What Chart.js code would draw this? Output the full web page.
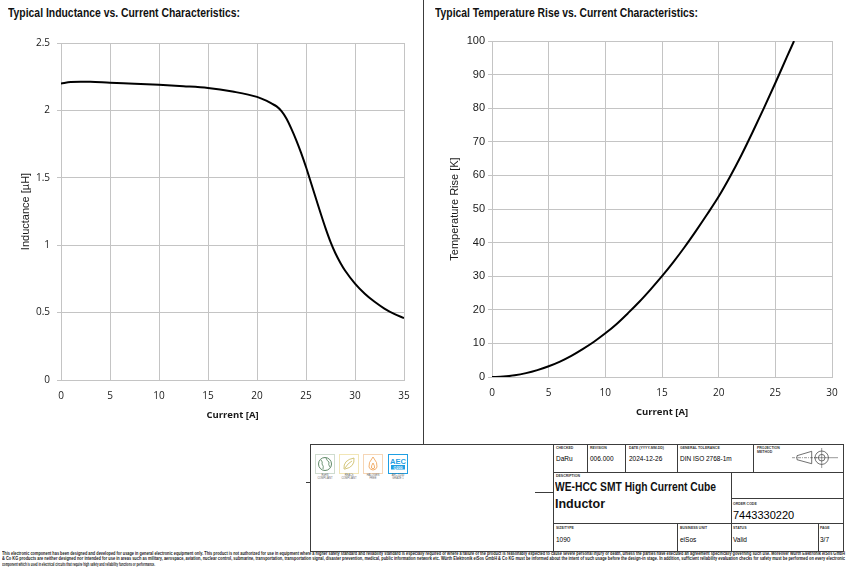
<!DOCTYPE html>
<html>
<head>
<meta charset="utf-8">
<script src="https://cdn.jsdelivr.net/npm/chart.js@4.4.1/dist/chart.umd.min.js"></script>
<style>
  body { margin: 0; background: #fff; }
  #page { position: relative; width: 849px; height: 574px; overflow: hidden; background: #fff;
          font-family: "Liberation Sans", Arial, sans-serif; color: #1a1a1a; }
  .t { position: absolute; white-space: nowrap; line-height: 1; transform-origin: 0 0; }
  .head { font-family: "Liberation Sans Narrow", "Liberation Sans", sans-serif; font-weight: bold; font-size: 12.5px; color: #111; }
  .ln { position: absolute; background: #3c3c3c; }
  .lbl { font-size: 3.5px; font-weight: bold; color: #333; }
  .val { font-size: 6.5px; color: #000; }
  .big { font-family: "Liberation Sans Narrow", "Liberation Sans", sans-serif; font-weight: bold; font-size: 12.5px; color: #111; }
  .code { font-size: 11px; color: #000; }
  .logo { position: absolute; top: 454px; width: 20px; height: 20px; }
  .lg { font-size: 2.6px; color: #666; text-align: center; width: 24px; line-height: 1.1; }
  .disc { font-family: "Liberation Sans Narrow", "Liberation Sans", sans-serif; font-weight: bold; font-size: 4.8px; color: #222; }
  .box { position: absolute; }
</style>
</head>
<body>
<div id="page">
  <div class="t head" id="title1" style="left:8px; top:6.7px;">Typical Inductance vs. Current Characteristics:</div>
  <div class="t head" id="title2" style="left:435px; top:6.7px;">Typical Temperature Rise vs. Current Characteristics:</div>

  <div class="box" style="left:0; top:30px; width:420px; height:410px;"><canvas id="indChart" width="420" height="410"></canvas></div>
  <div class="box" style="left:425px; top:30px; width:424px; height:410px;"><canvas id="tempChart" width="424" height="410"></canvas></div>

  <!-- logos -->
  <svg class="logo" style="left:315px;" viewBox="0 0 20 20">
    <rect x="0.5" y="0.5" width="19" height="19" fill="#fff" stroke="#cfdccf" stroke-width="1"/>
    <circle cx="10" cy="10" r="6.5" fill="none" stroke="#4f7d58" stroke-width="0.9"/>
    <path d="M6 6 Q8 8 7 10 Q9 12 8 15 M11 4 Q12 7 14 8 Q13 11 15 13" fill="none" stroke="#4f7d58" stroke-width="0.8"/>
  </svg>
  <svg class="logo" style="left:339px;" viewBox="0 0 20 20">
    <rect x="0.5" y="0.5" width="19" height="19" fill="#fff" stroke="#f2e6b6" stroke-width="1"/>
    <path d="M5 15 Q4 6 15 4 Q16 13 6 15 Z M6 14 Q9 9 13 7" fill="none" stroke="#c9b75a" stroke-width="0.8"/>
  </svg>
  <svg class="logo" style="left:363px;" viewBox="0 0 20 20">
    <rect x="0.5" y="0.5" width="19" height="19" fill="#fff" stroke="#f6d6b6" stroke-width="1"/>
    <path d="M10 3 Q15 9 14 13 Q13 16 10 16 Q7 16 6 13 Q5 9 10 3 Z M10 9 Q12 12 11.5 14 Q10 15.5 8.5 14 Q8 12 10 9 Z" fill="none" stroke="#ef9d4d" stroke-width="0.8"/>
  </svg>
  <svg class="logo" style="left:388px;" viewBox="0 0 20 20">
    <rect x="0.5" y="0.5" width="19" height="19" fill="#fff" stroke="#1f9fe3" stroke-width="1"/>
    <text x="10" y="9.5" text-anchor="middle" font-family="Liberation Sans Narrow, Liberation Sans" font-weight="bold" font-size="7.5" fill="#1f9fe3">AEC</text>
    <rect x="3" y="11" width="14" height="4.5" fill="#1f9fe3"/>
    <text x="10" y="14.6" text-anchor="middle" font-family="Liberation Sans" font-weight="bold" font-size="3.6" fill="#fff">Q200</text>
  </svg>
  <div class="t lg" style="left:313px; top:475px;">RoHS<br>COMPLIANT</div>
  <div class="t lg" style="left:337px; top:475px;">REACh<br>COMPLIANT</div>
  <div class="t lg" style="left:361px; top:475px;">HALOGEN<br>FREE</div>
  <div class="t lg" style="left:386px; top:475px;">AEC-Q200<br>GRADE 1</div>

  <!-- title block texts -->
  <div class="t lbl" style="left:556px; top:447.2px;">CHECKED</div>
  <div class="t lbl" style="left:590px; top:447.2px;">REVISION</div>
  <div class="t lbl" style="left:629px; top:447.2px;">DATE (YYYY-MM-DD)</div>
  <div class="t lbl" style="left:680px; top:447.2px;">GENERAL TOLERANCE</div>
  <div class="t lbl" style="left:757px; top:447.2px;">PROJECTION<br>METHOD</div>
  <div class="t val" style="left:556px; top:455.8px;">DaRu</div>
  <div class="t val" style="left:590px; top:455.8px;">006.000</div>
  <div class="t val" style="left:629px; top:455.8px;">2024-12-26</div>
  <div class="t val" style="left:680px; top:455.8px;">DIN ISO 2768-1m</div>

  <div class="t lbl" style="left:556px; top:474.5px;">DESCRIPTION</div>
  <div class="t big" id="desc1" style="left:555px; top:481.4px;">WE-HCC SMT High Current Cube</div>
  <div class="t big" style="left:555px; top:498px;">Inductor</div>
  <div class="t lbl" style="left:733px; top:502.5px;">ORDER CODE</div>
  <div class="t code" style="left:733px; top:509.9px;">7443330220</div>

  <div class="t lbl" style="left:556px; top:526.5px;">SIZE/TYPE</div>
  <div class="t lbl" style="left:680px; top:526.5px;">BUSINESS UNIT</div>
  <div class="t lbl" style="left:733px; top:526.5px;">STATUS</div>
  <div class="t lbl" style="left:820px; top:526.5px;">PAGE</div>
  <div class="t val" style="left:556px; top:536.5px;">1090</div>
  <div class="t val" style="left:680px; top:536.5px;">eiSos</div>
  <div class="t val" style="left:733px; top:536.5px;">Valid</div>
  <div class="t val" style="left:820px; top:536.5px;">3/7</div>

  <!-- projection method symbol -->
  <svg class="box" style="left:788px; top:447px;" width="52" height="22" viewBox="0 0 52 22">
    <path d="M9 8.7 L23.7 4.3 L23.7 16.7 L9 12.7 Z" fill="none" stroke="#333" stroke-width="0.7"/>
    <path d="M4 10.7 L29 10.7" stroke="#333" stroke-width="0.5" stroke-dasharray="3 1 1 1"/>
    <circle cx="33.7" cy="10.7" r="6.7" fill="none" stroke="#333" stroke-width="0.7"/>
    <circle cx="33.7" cy="10.7" r="3.3" fill="none" stroke="#333" stroke-width="0.7"/>
    <path d="M26 10.7 L50 10.7 M33.7 1 L33.7 21" stroke="#333" stroke-width="0.5"/>
  </svg>

  <div class="t disc" id="disc1" style="left:2px; top:551.6px;">This electronic component has been designed and developed for usage in general electronic equipment only. This product is not authorized for use in equipment where a higher safety standard and reliability standard is especially required or where a failure of the product is reasonably expected to cause severe personal injury or death, unless the parties have executed an agreement specifically governing such use. Moreover Würth Elektronik eiSos GmbH</div>
  <div class="t disc" id="disc2" style="left:2px; top:557.1px;">&amp; Co KG products are neither designed nor intended for use in areas such as military, aerospace, aviation, nuclear control, submarine, transportation, transportation signal, disaster prevention, medical, public information network etc. Würth Elektronik eiSos GmbH &amp; Co KG must be informed about the intent of such usage before the design-in stage. In addition, sufficient reliability evaluation checks for safety must be performed on every electronic</div>
  <div class="t disc" id="disc3" style="left:2px; top:562.6px;">component which is used in electrical circuits that require high safety and reliability functions or performance.</div>
</div>

<script>
// Dane: indukcyjnosc w funkcji pradu
var indCurrent = [0, 1, 2, 3, 5, 7.5, 10, 12.5, 15, 17.5, 20, 21, 21.5, 22, 22.5, 23, 23.5, 24, 24.5, 25, 25.5, 26, 26.5, 27, 27.5, 28, 28.5, 29, 30, 31, 32, 33, 34, 35];
var indValues = [2.20, 2.21, 2.213, 2.212, 2.205, 2.198, 2.19, 2.18, 2.167, 2.14, 2.10, 2.07, 2.05, 2.03, 1.995, 1.94, 1.865, 1.78, 1.685, 1.58, 1.465, 1.35, 1.235, 1.125, 1.025, 0.94, 0.87, 0.81, 0.715, 0.64, 0.58, 0.53, 0.49, 0.46];

// Dane: przyrost temperatury w funkcji pradu
var tempCurrent = [0, 1, 2, 3, 4, 5, 6, 7, 8, 9, 10, 11, 12, 13, 14, 15, 16, 17, 18, 19, 20, 21, 22, 23, 24, 25, 26, 26.65];
var tempValues = [0, 0.12, 0.5, 1.15, 2.05, 3.2, 4.6, 6.3, 8.3, 10.5, 13.0, 15.8, 19.0, 22.4, 26.1, 30.0, 34.2, 38.7, 43.5, 48.5, 53.7, 59.6, 66.0, 72.9, 80.1, 87.5, 95.1, 100];

// Etykiety osi
var indXTicks = [0, 5, 10, 15, 20, 25, 30, 35];
var indYTicks = [0, 0.5, 1, 1.5, 2, 2.5];
var tempXTicks = [0, 5, 10, 15, 20, 25, 30];
var tempYTicks = [0, 10, 20, 30, 40, 50, 60, 70, 80, 90, 100];

var gridColor = "#c4c4c4";
var textColor = "#1a1a1a";

// Linie tabelki
function hLine(x1, x2, y) {
  var d = document.createElement("div");
  d.className = "ln";
  d.style.left = x1 + "px"; d.style.top = y + "px";
  d.style.width = (x2 - x1 + 1) + "px"; d.style.height = "1px";
  document.getElementById("page").appendChild(d);
}
function vLine(x, y1, y2) {
  var d = document.createElement("div");
  d.className = "ln";
  d.style.left = x + "px"; d.style.top = y1 + "px";
  d.style.width = "1px"; d.style.height = (y2 - y1 + 1) + "px";
  document.getElementById("page").appendChild(d);
}
vLine(423, 0, 444);
hLine(310, 843, 444); hLine(310, 843, 551); vLine(310, 444, 551); vLine(843, 444, 551);
vLine(553, 444, 551); hLine(553, 843, 472);
vLine(587, 444, 472); vLine(625, 444, 472); vLine(677, 444, 472); vLine(753, 444, 472);
vLine(731, 472, 523); hLine(731, 843, 498); hLine(553, 843, 523);
vLine(677, 523, 551); vLine(731, 523, 551); vLine(818, 523, 551);
hLine(535, 553, 492); hLine(306, 310, 482);

// Dopasowanie szerokosci tekstu (fonty waskie)
function fitText(id, width) {
  var el = document.getElementById(id);
  var w = el.getBoundingClientRect().width;
  el.style.transform = "scaleX(" + (width / w) + ")";
}

function makePoints(xs, ys) {
  return xs.map(function (x, i) { return { x: x, y: ys[i] }; });
}
function setTicks(list) {
  return function (axis) {
    axis.ticks = list.map(function (v) { return { value: v }; });
  };
}

Chart.defaults.font.family = "'Open Sans', sans-serif";

function createChart(canvasId, cfg) {
  var ctx = document.getElementById(canvasId).getContext("2d");
  return new Chart(ctx, {
    type: "line",
    data: {
      datasets: [{
        data: makePoints(cfg.xs, cfg.ys),
        borderColor: "#000",
        borderWidth: 2,
        pointRadius: 0,
        fill: false,
        cubicInterpolationMode: "monotone"
      }]
    },
    options: {
      responsive: false,
      animation: false,
      events: [],
      layout: { padding: cfg.padding },
      plugins: { legend: { display: false }, tooltip: { enabled: false } },
      scales: {
        x: {
          type: "linear",
          min: cfg.xMin, max: cfg.xMax,
          afterBuildTicks: setTicks(cfg.xTicks),
          afterFit: function (s) { s.height = cfg.xAxisH; },
          grid: { color: gridColor, drawTicks: false },
          border: { color: gridColor },
          ticks: { padding: 10, color: textColor, maxRotation: 0, font: { family: "'Open Sans'", size: 10 },
                   callback: function (v) { return String(v); } },
          title: { display: true, text: "Current [A]", color: textColor,
                   font: { family: "'Open Sans'", size: 9.5, weight: "bold" },
                   padding: { top: 0, bottom: cfg.xTitlePad } }
        },
        y: {
          type: "linear",
          min: cfg.yMin, max: cfg.yMax,
          afterBuildTicks: setTicks(cfg.yTicks),
          afterFit: function (s) { s.width = cfg.yAxisW; },
          grid: { color: gridColor, tickLength: 4 },
          border: { color: gridColor },
          ticks: { padding: cfg.yTickPad, color: textColor, font: cfg.yTickFont,
                   callback: function (v) { return String(v); } },
          title: { display: true, text: cfg.yTitle, color: textColor,
                   font: { family: "'Liberation Sans'", size: 11 },
                   padding: { top: cfg.yTitlePad, bottom: 0 } }
        }
      }
    }
  });
}

createChart("indChart", {
  xs: indCurrent, ys: indValues,
  xMin: 0, xMax: 35, yMin: 0, yMax: 2.5,
  xTicks: indXTicks, yTicks: indYTicks,
  padding: { left: 0, right: 16, top: 8, bottom: 0 },
  xAxisH: 60, yAxisW: 61,
  xTitlePad: 18.8, yTitlePad: 19.4, yTickPad: 7,
  yTickFont: { family: "'Open Sans'", size: 10 },
  yTitle: "Inductance [\u00b5H]"
});

createChart("tempChart", {
  xs: tempCurrent, ys: tempValues,
  xMin: 0, xMax: 30, yMin: 0, yMax: 100,
  xTicks: tempXTicks, yTicks: tempYTicks,
  padding: { left: 0, right: 17, top: 11, bottom: 0 },
  xAxisH: 63, yAxisW: 67,
  xTitlePad: 22.3, yTitlePad: 22.9, yTickPad: 3,
  yTickFont: { family: "'Liberation Sans'", size: 11 },
  yTitle: "Temperature Rise [K]"
});

fitText("title1", 232);
fitText("title2", 263);
fitText("desc1", 161);
fitText("disc1", 843);
fitText("disc2", 843);
fitText("disc3", 153);
</script>
</body>
</html>
